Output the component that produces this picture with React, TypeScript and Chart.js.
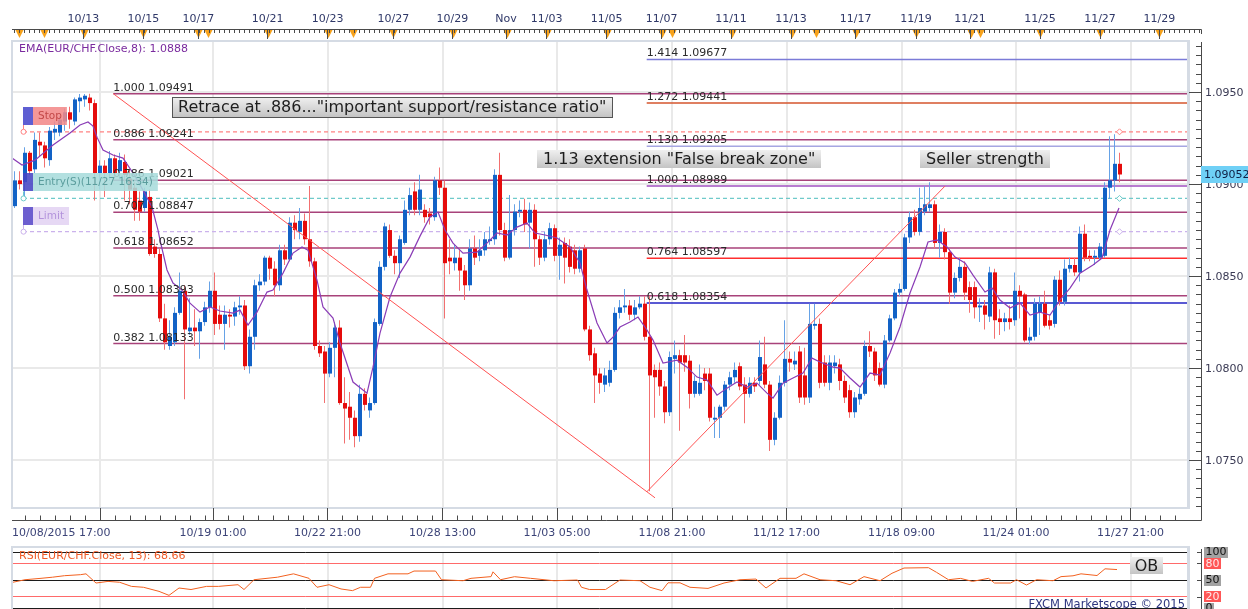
import React, { useEffect, useRef } from 'react';
import { Chart, registerables } from 'chart.js';

Chart.register(...registerables);

// ---------------- DATA (EUR/CHF, 4-hour candles) ----------------
const opens = [1.0888,1.0902,1.0901,1.0917,1.0908,1.0923,1.0921,1.0913,1.0928,1.0928,
1.0934,1.0939,1.0934,1.0945,1.0946,1.0947,1.0944,1.0906,1.0910,1.0906,
1.0914,1.0907,1.0912,1.0903,1.0898,1.0891,1.0887,1.0893,1.0866,1.0862,
1.0827,1.0812,1.0814,1.0830,1.0842,1.0820,1.0822,1.0820,1.0825,1.0833,
1.0842,1.0829,1.0824,1.0829,1.0828,1.0833,1.0834,1.0801,1.0817,1.0845,
1.0847,1.0860,1.0854,1.0845,1.0864,1.0859,1.0879,1.0874,1.0880,1.0870,
1.0858,1.0812,1.0809,1.0797,1.0811,1.0822,1.0781,1.0779,1.0773,1.0763,
1.0786,1.0777,1.0781,1.0824,1.0855,1.0875,1.0861,1.0857,1.0868,1.0886,
1.0896,1.0886,1.0886,1.0884,1.0882,1.0902,1.0898,1.0860,1.0857,1.0860,
1.0853,1.0845,1.0865,1.0861,1.0864,1.0869,1.0870,1.0905,1.0875,1.0860,
1.0875,1.0885,1.0886,1.0879,1.0886,1.0870,1.0860,1.0870,1.0876,1.0861,
1.0868,1.0866,1.0864,1.0854,1.0865,1.0821,1.0808,1.0797,1.0791,1.0792,
1.0799,1.0830,1.0833,1.0834,1.0829,1.0833,1.0835,1.0817,1.0799,1.0799,
1.0790,1.0776,1.0805,1.0807,1.0807,1.0804,1.0786,1.0786,1.0797,1.0797,
1.0772,1.0773,1.0779,1.0791,1.0795,1.0801,1.0791,1.0786,1.0792,1.0793,
1.0802,1.0791,1.0761,1.0773,1.0792,1.0805,1.0802,1.0809,1.0796,1.0784,
1.0823,1.0824,1.0803,1.0792,1.0801,1.0802,1.0793,1.0788,1.0776,1.0783,
1.0786,1.0812,1.0809,1.0800,1.0791,1.0815,1.0827,1.0841,1.0843,1.0871,
1.0882,1.0874,1.0885,1.0887,1.0889,1.0868,1.0874,1.0863,1.0841,1.0849,
1.0855,1.0844,1.0844,1.0833,1.0834,1.0828,1.0852,1.0827,1.0825,1.0827,
1.0826,1.0842,1.0840,1.0815,1.0817,1.0830,1.0835,1.0826,1.0824,1.0848,
1.0836,1.0854,1.0856,1.0852,1.0873,1.0861,1.0860,1.0860,1.0861,1.0898,
1.0902,1.0911];

const highs = [1.0907,1.0907,1.0920,1.0918,1.0928,1.0928,1.0923,1.0931,1.0934,1.0937,
1.0941,1.0942,1.0947,1.0949,1.0949,1.09491,1.0946,1.0913,1.0913,1.0918,
1.0916,1.0917,1.0916,1.0908,1.0901,1.0896,1.0898,1.0897,1.0870,1.0865,
1.0835,1.0826,1.0833,1.0852,1.0845,1.0838,1.0832,1.0827,1.0836,1.0847,
1.0852,1.0834,1.0834,1.0832,1.0836,1.0839,1.0837,1.0821,1.0848,1.0851,
1.0861,1.0861,1.0858,1.0867,1.0867,1.0882,1.0883,1.0887,1.0884,1.0899,
1.0860,1.0815,1.0812,1.0814,1.0825,1.0826,1.0795,1.0787,1.0777,1.0791,
1.0789,1.0784,1.0827,1.0858,1.0879,1.0878,1.0864,1.0872,1.0891,1.0898,
1.0901,1.0905,1.0889,1.0887,1.0904,1.0909,1.0902,1.0870,1.0867,1.0864,
1.0856,1.0870,1.0872,1.0870,1.0874,1.0877,1.0908,1.0917,1.0879,1.0894,
1.0889,1.0891,1.0892,1.0890,1.0889,1.0872,1.0874,1.0879,1.0878,1.0871,
1.0871,1.0870,1.0867,1.0866,1.0867,1.0823,1.0811,1.0800,1.0800,1.0804,
1.0833,1.0837,1.0843,1.0837,1.0837,1.0839,1.0839,1.0839,1.0802,1.0803,
1.0793,1.0809,1.0815,1.0810,1.0818,1.0807,1.0796,1.0802,1.0800,1.0800,
1.0779,1.0780,1.0793,1.0798,1.0803,1.0803,1.0795,1.0795,1.0795,1.0815,
1.0817,1.0793,1.0776,1.0796,1.0826,1.0809,1.0809,1.0812,1.0811,1.0835,
1.0835,1.0827,1.0807,1.0807,1.0807,1.0805,1.0796,1.0791,1.0787,1.0789,
1.0815,1.0820,1.0811,1.0803,1.0818,1.0829,1.0843,1.0846,1.0873,1.0885,
1.0886,1.0898,1.0899,1.0901,1.0891,1.0878,1.0876,1.0865,1.0852,1.0860,
1.0858,1.0847,1.0847,1.0838,1.0837,1.0855,1.0854,1.0832,1.0830,1.0834,
1.0852,1.0845,1.0841,1.0822,1.0838,1.0839,1.0842,1.0829,1.0850,1.0853,
1.0859,1.0860,1.0860,1.0877,1.0878,1.0864,1.0864,1.0868,1.0901,1.0926,
1.0927,1.0917];

const lows = [1.0887,1.0897,1.0892,1.0905,1.0906,1.0915,1.0909,1.0910,1.0924,1.0926,
1.0929,1.0930,1.0932,1.0939,1.0942,1.0940,1.0891,1.0897,1.0893,1.0902,
1.0903,1.0903,1.0891,1.0889,1.0880,1.0880,1.0885,1.0861,1.0860,1.0825,
1.0810,1.0810,1.0812,1.0829,1.0783,1.0818,1.0812,1.0805,1.0823,1.0830,
1.0818,1.0821,1.0810,1.0822,1.0823,1.0829,1.0799,1.0797,1.0810,1.0842,
1.0845,1.0848,1.0839,1.0842,1.0856,1.0858,1.0870,1.0870,1.0867,1.0855,
1.0810,1.0806,1.0781,1.0795,1.0795,1.0780,1.0759,1.0761,1.0757,1.0760,
1.0777,1.0773,1.0780,1.0823,1.0853,1.0860,1.0851,1.0849,1.0867,1.0883,
1.0883,1.0883,1.0879,1.0878,1.0880,1.0894,1.0827,1.0851,1.0853,1.0842,
1.0837,1.0842,1.0856,1.0858,1.0861,1.0867,1.0867,1.0872,1.0858,1.0859,
1.0872,1.0882,1.0874,1.0865,1.0855,1.0856,1.0858,1.0867,1.0858,1.0848,
1.0846,1.0852,1.0851,1.0852,1.0820,1.0804,1.0781,1.0786,1.0787,1.0790,
1.0798,1.0827,1.0830,1.0826,1.0826,1.0832,1.0815,1.0733,1.0773,1.0785,
1.0770,1.0774,1.0797,1.0766,1.0798,1.0778,1.0784,1.0785,1.0788,1.0771,
1.0762,1.0762,1.0777,1.0788,1.0792,1.0788,1.0770,1.0784,1.0787,1.0791,
1.0789,1.0755,1.0758,1.0772,1.0790,1.0798,1.0799,1.0781,1.0780,1.0781,
1.0821,1.0789,1.0790,1.0788,1.0797,1.0788,1.0781,1.0773,1.0773,1.0780,
1.0785,1.0806,1.0793,1.0790,1.0789,1.0814,1.0826,1.0839,1.0842,1.0868,
1.0872,1.0872,1.0883,1.0885,1.0865,1.0860,1.0859,1.0835,1.0838,1.0847,
1.0837,1.0830,1.0827,1.0825,1.0821,1.0825,1.0816,1.0818,1.0820,1.0821,
1.0823,1.0827,1.0814,1.0813,1.0815,1.0818,1.0822,1.0821,1.0822,1.0834,
1.0834,1.0852,1.0850,1.0847,1.0858,1.0858,1.0856,1.0859,1.0860,1.0892,
1.0896,1.0901];

const closes = [1.0902,1.0900,1.0917,1.0907,1.0924,1.0921,1.0914,1.0929,1.0930,1.0935,
1.0939,1.0935,1.0946,1.0947,1.0948,1.0944,1.0906,1.0910,1.0906,1.0914,
1.0906,1.0913,1.0905,1.0897,1.0886,1.0885,1.0896,1.0862,1.0862,1.0827,
1.0814,1.0817,1.0830,1.0842,1.0821,1.0822,1.0820,1.0825,1.0833,1.0842,
1.0824,1.0824,1.0829,1.0828,1.0833,1.0834,1.0801,1.0817,1.0845,1.0847,
1.0860,1.0854,1.0845,1.0864,1.0859,1.0879,1.0875,1.0880,1.0870,1.0858,
1.0812,1.0808,1.0797,1.0811,1.0822,1.0781,1.0778,1.0773,1.0763,1.0786,
1.0780,1.0781,1.0825,1.0855,1.0877,1.0861,1.0857,1.0870,1.0886,1.0894,
1.0886,1.0897,1.0882,1.0882,1.0902,1.0898,1.0857,1.0858,1.0860,1.0853,
1.0845,1.0865,1.0860,1.0864,1.0870,1.0870,1.0905,1.0875,1.0860,1.0875,
1.0885,1.0886,1.0878,1.0886,1.0870,1.0860,1.0870,1.0876,1.0861,1.0867,
1.0860,1.0855,1.0854,1.0864,1.0821,1.0807,1.0796,1.0792,1.0796,1.0799,
1.0830,1.0833,1.0834,1.0829,1.0833,1.0835,1.0817,1.0796,1.0795,1.0790,
1.0776,1.0806,1.0807,1.0803,1.0803,1.0786,1.0793,1.0792,1.0793,1.0773,
1.0773,1.0779,1.0791,1.0795,1.0799,1.0790,1.0786,1.0792,1.0790,1.0806,
1.0791,1.0761,1.0773,1.0792,1.0805,1.0803,1.0804,1.0784,1.0784,1.0824,
1.0824,1.0792,1.0792,1.0803,1.0803,1.0793,1.0784,1.0776,1.0784,1.0786,
1.0812,1.0809,1.0796,1.0791,1.0815,1.0827,1.0841,1.0843,1.0871,1.0882,
1.0874,1.0887,1.0889,1.0889,1.0868,1.0874,1.0863,1.0841,1.0849,1.0855,
1.0841,1.0837,1.0833,1.0834,1.0829,1.0852,1.0826,1.0825,1.0827,1.0825,
1.0842,1.0839,1.0815,1.0817,1.0835,1.0835,1.0823,1.0823,1.0848,1.0836,
1.0854,1.0856,1.0852,1.0873,1.0860,1.0860,1.0861,1.0866,1.0898,1.0902,
1.0911,1.09052];

// EMA(8) line (candle index, value)
const emaIdx = [-0.5,1.5,4.1,7.7,11.1,13.1,14.7,15.7,16.5,17.7,
19.7,21.7,23.7,25.7,27.5,28.7,29.1,30.5,31.7,33.5,
35.1,37.1,39.1,41.1,43.7,45.1,46.7,48.5,50.5,51.7,
53.7,55.7,57.5,58.7,60.5,61.7,63.7,65.1,67.7,70.5,
71.7,73.1,75.1,77.1,79.1,81.1,83.1,84.7,86.1,87.7,
89.7,92.5,94.5,96.5,98.5,100.5,102.5,104.1,106.1,108.5,
111.1,113.1,114.5,116.5,118.5,119.7,121.1,123.1,124.7,126.5,
127.7,129.7,132.5,134.5,136.5,138.5,140.5,142.5,144.5,146.5,
148.5,150.5,151.7,153.7,155.7,157.7,159.5,161.1,163.7,165.1,
167.1,169.1,171.1,173.1,175.1,177.1,179.1,181.1,182.7,184.5,
186.5,188.1,190.1,191.7,194.1,195.5,197.1,199.1,201.1,203.1,
205.1,207.1,209.1,211.1,213.1,215.7,217.5,219.1,220.9];
const emaVal = [1.09141,1.09103,1.09130,1.09212,1.09277,1.09321,1.09337,1.09315,1.09255,1.09185,
1.09158,1.09141,1.09060,1.08967,1.08875,1.08750,1.08696,1.08533,1.08462,1.08424,
1.08353,1.08304,1.08332,1.08310,1.08299,1.08315,1.08234,1.08304,1.08413,1.08424,
1.08516,1.08625,1.08658,1.08641,1.08478,1.08332,1.08272,1.08136,1.07924,1.07864,
1.08005,1.08190,1.08386,1.08516,1.08603,1.08717,1.08821,1.08848,1.08750,1.08679,
1.08625,1.08630,1.08679,1.08734,1.08723,1.08766,1.08788,1.08734,1.08723,1.08707,
1.08658,1.08571,1.08424,1.08245,1.08136,1.08168,1.08223,1.08250,1.08277,1.08207,
1.08152,1.08027,1.08043,1.08005,1.07951,1.07935,1.07853,1.07891,1.07924,1.07897,
1.07918,1.07864,1.07837,1.07918,1.07946,1.07973,1.08054,1.08033,1.08005,1.08000,
1.07946,1.07897,1.07973,1.07962,1.08082,1.08223,1.08408,1.08549,1.08685,1.08696,
1.08658,1.08603,1.08571,1.08505,1.08413,1.08435,1.08370,1.08326,1.08353,1.08288,
1.08304,1.08288,1.08370,1.08435,1.08516,1.08560,1.08598,1.08750,1.08870];

// RSI(13)
const rsiIdx = [-0.3,2.1,5.3,7.6,10,13.2,14.3,16.3,18.7,21,
23.4,25.8,28.9,30.9,32.9,35.3,38.4,40.8,44.7,45.9,
47.9,52.6,55.8,58.9,60.5,62.9,65.3,67.6,69.2,71.2,
72,74.7,78.7,79.9,84.2,85.4,89.7,91.3,95.3,95.7,
97.2,100,103.2,107.9,112.6,113.4,115,118.2,121.1,125.1,
127.1,129.5,130.7,133.1,135.1,138.7,141.9,145.1,148.3,150.3,
153.1,156.3,157.9,161.1,164.3,167.1,169.9,173.1,175.5,177.9,
182.8,184.4,186.8,189.2,191.6,194.8,196,199.2,200.4,202.4,
204.4,207.7,209.3,211.7,213.3,216.5,218.1,220.5];
const rsiVal = [46,50.5,53,55,57.7,59.5,61,44.6,47.5,46,
38.6,37,29.7,22.6,35.7,33,38.6,38.6,41.6,33,
50.5,55,61,53,37,41.6,34,31,37,37,
53,61,61,66,66,50.5,48.7,53,56,64.6,
50.5,55.9,53,48.7,50,37,33,33,50,48.7,
37,31,45,45,37,35,44.6,50.5,51.7,35.7,
53,53,61,50.5,48.7,41.6,56,48.7,62,71.4,
72,63.7,50.5,52.9,47.5,53,44.6,44.6,50.5,41,
50.5,48.7,56,57.5,61,58,70,68.66];
const rsiLevels = [0, 20, 50, 80, 100];
const rsiLabelLevels = ['100', '80', '50', '20', '0'];

// Fibonacci retracement (drawn from the 10/13 high to the 11/06 low)
const retraceRatios = ['1.000', '0.886', '0.786', '0.707', '0.618', '0.500', '0.382'];
const retraceLevels = [1.09491, 1.09241, 1.09021, 1.08847, 1.08652, 1.08393, 1.08133];
const retraceAnchorIdx = [19.76, 128.1];
const retraceAnchorPrice = [1.09491, 1.07295];

// Fibonacci extension
const extRatios = ['1.414', '1.272', '1.130', '1.000', '0.764', '0.618'];
const extLevels = [1.09677, 1.09441, 1.09205, 1.08989, 1.08597, 1.08354];
const extAnchorIdx = [126.44, 186.1];
const extAnchorPrice = [1.07327, 1.08989];

// Order lines
const orderNames = ['Stop', 'Entry(S)(11/27 16:34)', 'Limit'];
const orderLevels = [1.09284, 1.08922, 1.08741];
const orderStartIdx = 1.7;

// Text notes (anchor: candle index of left edge, price of top edge)
const noteTexts = ['Retrace at .886..."important support/resistance ratio"', '1.13 extension "False break zone"', 'Seller strength'];
const noteIdx = [31.56, 104.44, 181.1];
const notePrice = [1.09471, 1.09185, 1.09185];

// Time axes
const topDates = ['10/13','10/15','10/17','10/21','10/23','10/27','10/29','Nov','11/03','11/05','11/07','11/11','11/13','11/17','11/19','11/21','11/25','11/27','11/29'];
const topDateIdx = [13.76,25.76,36.76,50.64,62.64,75.76,87.56,98.3,106.44,118.44,129.44,143.3,155.3,168.24,180.3,191.1,205.1,217.1,228.96];
const eventIdx = [0.9,5.9,13.9,25.7,36.9,38.7,50.7,62.7,67.7,75.7,87.7,98.5,106.5,118.5,129.5,131.5,143.5,155.5,160.3,168.3,180.3,191.3,193.1,205.1,217.1,228.9];
const bottomLabels = ['10/08/2015 17:00','10/19 01:00','10/22 21:00','10/28 13:00','11/03 05:00','11/08 21:00','11/12 17:00','11/18 09:00','11/24 01:00','11/27 21:00'];
const bottomIdx = [-0.5,39.7,62.6,85.6,108.5,131.5,154.4,177.4,200.3,223.2];
const gridIdx = [17.1,39.7,62.6,85.6,108.5,131.5,154.4,177.4,200.3,223.2];
const priceGrid = [1.075, 1.08, 1.085, 1.09, 1.095];

const emaLabel = 'EMA(EUR/CHF.Close,8): 1.0888';
const rsiLabel = 'RSI(EUR/CHF.Close, 13): 68.66';
const credit = 'FXCM Marketscope © 2015';

// ---------------- LAYOUT / STYLE ----------------
const CW = 1248;
const MAIN_H = 545;
const RSI_H = 64;
const X_MIN = -0.5;
const X_MAX = 234.5;
const Y_MIN = 1.07245;
const Y_MAX = 1.09772;
const FONT = (s: number) => `${s}px "DejaVu Sans", Verdana, sans-serif`;

const UP_BODY = '#1262c6';
const UP_WICK = '#66a2e6';
const DN_BODY = '#e50c0c';
const DN_WICK = '#f27070';
const RETRACE_COLOR = '#a8427a';
const EXT_COLORS = ['#7b7bd8', '#d4552c', '#a6a6e2', '#a150c0', '#ff2e2e', '#2222c4'];
const ORDER_LINE = ['#ff8282', '#6fcaca', '#cbb2ec'];
const ORDER_SQUARE = ['#4848cc', '#4646c4', '#5848c8'];
const ORDER_BOX = ['#f28a8a', '#a9dcdc', '#e2d3f3'];
const ORDER_TEXT = ['#c34848', '#5b9d9d', '#b393dc'];
const FRAME = '#d5dbe4';
const AXIS = '#4a4a4a';

function hline(level: number, from: number) {
  return [{ x: from, y: level }, { x: X_MAX, y: level }];
}

function drawMainDecor(chart: any) {
  const ctx: CanvasRenderingContext2D = chart.ctx;
  const xs = chart.scales.x;
  const ys = chart.scales.y;
  const X = (v: number) => xs.getPixelForValue(v);
  const Y = (v: number) => ys.getPixelForValue(v);
  const a = chart.chartArea;
  const axR = Math.round(a.right) + 14;
  ctx.save();

  // plot frame
  ctx.fillStyle = FRAME;
  ctx.fillRect(a.left - 1, a.top - 2, a.right - a.left + 4, 2);
  ctx.fillRect(a.left - 1, a.bottom, a.right - a.left + 4, 2);
  ctx.fillRect(a.left - 1, a.top - 2, 2, a.bottom - a.top + 4);
  ctx.fillRect(a.right, a.top - 2, 3, a.bottom - a.top + 4);

  // ---- top date axis
  ctx.fillStyle = '#f7a21b';
  eventIdx.forEach((v) => {
    const x = Math.floor(X(v)) + 0.5;
    ctx.beginPath();
    ctx.moveTo(x - 4, 30);
    ctx.lineTo(x + 4, 30);
    ctx.lineTo(x, 38);
    ctx.closePath();
    ctx.fill();
  });
  ctx.strokeStyle = AXIS;
  ctx.lineWidth = 1;
  ctx.beginPath();
  ctx.moveTo(a.left, 29.5);
  ctx.lineTo(axR + 0.5, 29.5);
  for (let k = 0; X(k) <= axR; k++) {
    const x = Math.floor(X(k)) + 0.5;
    ctx.moveTo(x, 29.5);
    ctx.lineTo(x, 33);
  }
  topDateIdx.forEach((v) => {
    const x = Math.floor(X(v)) + 0.5;
    ctx.moveTo(x, 29.5);
    ctx.lineTo(x, 39);
  });
  ctx.moveTo(axR + 0.5, 29.5);
  ctx.lineTo(axR + 0.5, 34);
  ctx.stroke();
  ctx.font = FONT(11);
  ctx.fillStyle = '#2f3868';
  ctx.textAlign = 'center';
  ctx.textBaseline = 'middle';
  topDates.forEach((t, k) => ctx.fillText(t, X(topDateIdx[k]), 19.5));

  // ---- right price axis
  const by = 520.5;
  ctx.beginPath();
  ctx.moveTo(axR + 0.5, a.top);
  ctx.lineTo(axR + 0.5, by);
  const kLo = Math.ceil(ys.min * 2000 - 1e-6);
  const kHi = Math.floor(ys.max * 2000 + 1e-6);
  for (let k = kLo; k <= kHi; k++) {
    const y = Math.round(Y(k / 2000)) + 0.5;
    const major = k % 10 === 0;
    ctx.moveTo(major ? a.right + 2 : axR - 5, y);
    ctx.lineTo(axR + 0.5, y);
  }
  // ---- bottom time axis
  ctx.moveTo(a.left, by);
  ctx.lineTo(axR + 0.5, by);
  const minor: number[] = [];
  for (let v = gridIdx[0] - 3; v > X_MIN; v -= 3) minor.push(v);
  for (let j = 0; j < gridIdx.length; j++) {
    const next = j + 1 < gridIdx.length ? gridIdx[j + 1] : X_MAX;
    for (let v = gridIdx[j] + 3; v < next - 1; v += 3) minor.push(v);
  }
  minor.forEach((v) => {
    const x = Math.floor(X(v)) + 0.5;
    ctx.moveTo(x, by);
    ctx.lineTo(x, by - 5);
  });
  gridIdx.forEach((v) => {
    const x = Math.floor(X(v)) + 0.5;
    ctx.moveTo(x, by);
    ctx.lineTo(x, a.bottom + 1);
  });
  ctx.stroke();

  ctx.fillStyle = '#3a3a54';
  ctx.textAlign = 'left';
  for (let k = kLo; k <= kHi; k++) {
    if (k % 10 !== 0) continue;
    const y = Math.round(Y(k / 2000)) + 0.5;
    ctx.fillText((k / 2000).toFixed(4), axR + 4, y + 0.5);
  }
  ctx.fillStyle = '#3c4478';
  bottomLabels.forEach((t, k) => {
    ctx.textAlign = k === 0 ? 'left' : 'center';
    ctx.fillText(t, k === 0 ? a.left : X(bottomIdx[k]), 533);
  });

  // ---- fibonacci labels
  ctx.font = FONT(11);
  ctx.fillStyle = '#2a2a2a';
  ctx.textAlign = 'left';
  ctx.textBaseline = 'alphabetic';
  retraceLevels.forEach((lv, k) => ctx.fillText(`${retraceRatios[k]} ${lv.toFixed(5)}`, X(retraceAnchorIdx[0]), Y(lv) - 3));
  extLevels.forEach((lv, k) => ctx.fillText(`${extRatios[k]} ${lv.toFixed(5)}`, X(extAnchorIdx[0]), Y(lv) - 3));

  // ---- order markers
  orderLevels.forEach((lv, k) => {
    const y = Y(lv);
    const x0 = X(orderStartIdx);
    const xc = Math.floor(x0) + 0.5;
    ctx.strokeStyle = ORDER_LINE[k];
    ctx.lineWidth = 1;
    ctx.beginPath();
    ctx.moveTo(xc, y - 7);
    ctx.lineTo(xc, y - 2.5);
    ctx.stroke();
    ctx.beginPath();
    ctx.arc(xc, y, 2.5, 0, Math.PI * 2);
    ctx.fillStyle = '#ffffff';
    ctx.fill();
    ctx.stroke();
    const xd = X(opens.length - 1);
    ctx.beginPath();
    ctx.moveTo(xd - 3, y);
    ctx.lineTo(xd, y - 3);
    ctx.lineTo(xd + 3, y);
    ctx.lineTo(xd, y + 3);
    ctx.closePath();
    ctx.fill();
    ctx.stroke();

    ctx.font = FONT(10.5);
    const w = ctx.measureText(orderNames[k]).width;
    const top = Math.round(y - 25);
    const h = 18;
    const left = Math.floor(x0);
    ctx.globalAlpha = 0.88;
    ctx.fillStyle = ORDER_SQUARE[k];
    ctx.fillRect(left, top, 10, h);
    ctx.fillStyle = ORDER_BOX[k];
    ctx.fillRect(left + 10, top, w + 10, h);
    ctx.globalAlpha = 1;
    ctx.fillStyle = ORDER_TEXT[k];
    ctx.textBaseline = 'middle';
    ctx.textAlign = 'left';
    ctx.fillText(orderNames[k], left + 15, top + h / 2 + 0.5);
  });

  // ---- notes
  noteTexts.forEach((t, k) => {
    const left = Math.round(X(noteIdx[k]));
    const top = Math.round(Y(notePrice[k]));
    ctx.font = FONT(16);
    const w = Math.round(ctx.measureText(t).width + 12);
    const h = k === 0 ? 20 : 18;
    const g = ctx.createLinearGradient(0, top, 0, top + h);
    g.addColorStop(0, '#f0f0f0');
    g.addColorStop(1, '#c4c4c4');
    ctx.fillStyle = g;
    ctx.fillRect(left, top, w, h);
    if (k === 0) {
      ctx.strokeStyle = '#555555';
      ctx.lineWidth = 1;
      ctx.strokeRect(left + 0.5, top + 0.5, w, h);
    }
    ctx.fillStyle = '#1e1e1e';
    ctx.textAlign = 'left';
    ctx.textBaseline = 'middle';
    ctx.fillText(t, left + 6, top + h / 2 + 1);
  });

  // ---- EMA title
  ctx.font = FONT(11);
  ctx.fillStyle = '#7a2a9e';
  ctx.textAlign = 'left';
  ctx.textBaseline = 'middle';
  ctx.fillText(emaLabel, 19, 49);

  // ---- last price tag
  const last = closes[closes.length - 1];
  const yl = Y(last);
  ctx.fillStyle = '#6fd0f6';
  ctx.fillRect(axR, Math.round(yl - 8.5), CW - axR, 17);
  ctx.fillStyle = '#0f1f44';
  ctx.fillText(last.toFixed(5), axR + 3, yl + 0.5);

  ctx.restore();
}

function drawRsiDecor(chart: any) {
  const ctx: CanvasRenderingContext2D = chart.ctx;
  const ys = chart.scales.y;
  const Y = (v: number) => ys.getPixelForValue(v);
  const a = chart.chartArea;
  const axR = Math.round(a.right) + 14;
  ctx.save();
  ctx.fillStyle = FRAME;
  ctx.fillRect(a.left - 1, 1, a.right - a.left + 4, 2);
  ctx.fillRect(a.left - 1, 1, 2, RSI_H);
  ctx.fillRect(a.right, 1, 3, RSI_H);

  ctx.strokeStyle = AXIS;
  ctx.lineWidth = 1;
  ctx.beginPath();
  ctx.moveTo(axR + 0.5, 4);
  ctx.lineTo(axR + 0.5, RSI_H);
  [100, 80, 50, 20].forEach((v) => {
    const y = Math.round(Y(v)) + 0.5;
    ctx.moveTo(axR - 4, y);
    ctx.lineTo(axR + 0.5, y);
  });
  ctx.stroke();

  ctx.font = FONT(11);
  ctx.textAlign = 'left';
  ctx.textBaseline = 'middle';
  rsiLabelLevels.forEach((t) => {
    const v = Number(t);
    const y = Y(v);
    const w = ctx.measureText(t).width + 3;
    const red = v === 80 || v === 20;
    ctx.fillStyle = red ? '#ff5656' : '#a2a2a2';
    ctx.fillRect(axR + 3, Math.round(y - 5.5), w, 11);
    ctx.fillStyle = red ? '#ffe8e8' : '#111111';
    ctx.fillText(t, axR + 4.5, y + 0.5);
  });

  ctx.fillStyle = '#ef5a26';
  ctx.fillText(rsiLabel, 19, 11);

  // OB box
  const obLeft = 1130;
  const obTop = 12;
  const g = ctx.createLinearGradient(0, obTop, 0, obTop + 17);
  g.addColorStop(0, '#f0f0f0');
  g.addColorStop(1, '#c4c4c4');
  ctx.fillStyle = g;
  ctx.fillRect(obLeft, obTop, 33, 17);
  ctx.fillStyle = '#1e1e1e';
  ctx.font = FONT(16);
  ctx.textAlign = 'center';
  ctx.fillText('OB', obLeft + 16.5, obTop + 9.5);

  ctx.font = FONT(11.5);
  ctx.fillStyle = '#2e3680';
  ctx.textAlign = 'right';
  ctx.textBaseline = 'top';
  ctx.fillText(credit, 1185, 54);
  ctx.restore();
}

export default function App() {
  const mainRef = useRef<HTMLCanvasElement>(null);
  const rsiRef = useRef<HTMLCanvasElement>(null);

  useEffect(() => {
    const isUp = opens.map((o, i) => closes[i] >= o);
    const wicks = opens.map((_, i) => ({ x: i, y: [lows[i], highs[i]] }));
    const bodies = opens.map((o, i) => ({ x: i, y: [o, closes[i]] }));
    const lineBase = { type: 'line', pointRadius: 0, tension: 0, fill: false };

    const datasets: any[] = [
      ...retraceLevels.map((lv) => ({ ...lineBase, data: hline(lv, retraceAnchorIdx[0]), borderColor: RETRACE_COLOR, borderWidth: 1.5, order: 30 })),
      ...extLevels.map((lv, k) => ({ ...lineBase, data: hline(lv, extAnchorIdx[0]), borderColor: EXT_COLORS[k], borderWidth: 1.5, order: 30 })),
      ...orderLevels.map((lv, k) => ({ ...lineBase, data: hline(lv, orderStartIdx), borderColor: ORDER_LINE[k], borderWidth: 1.3, borderDash: [4, 3], order: 29 })),
      {
        type: 'bar', data: wicks, xAxisID: 'x', grouped: false, barThickness: 1, inflateAmount: 0, borderWidth: 0,
        backgroundColor: isUp.map((u) => (u ? UP_WICK : DN_WICK)), order: 12,
      },
      {
        type: 'bar', data: bodies, xAxisID: 'xb', grouped: false, barThickness: 4, inflateAmount: 0, borderWidth: 0, minBarLength: 1,
        backgroundColor: isUp.map((u) => (u ? UP_BODY : DN_BODY)), order: 11,
      },
      { ...lineBase, data: emaIdx.map((x, k) => ({ x, y: emaVal[k] })), borderColor: '#8a3cb6', borderWidth: 1.2, order: 5 },
      { ...lineBase, data: retraceAnchorIdx.map((x, k) => ({ x, y: retraceAnchorPrice[k] })), borderColor: '#ff5252', borderWidth: 1, order: 1 },
      { ...lineBase, data: extAnchorIdx.map((x, k) => ({ x, y: extAnchorPrice[k] })), borderColor: '#ff5252', borderWidth: 1, order: 1 },
    ];

    const main = new Chart(mainRef.current as HTMLCanvasElement, {
      type: 'line',
      data: { datasets },
      options: {
        responsive: false,
        animation: false,
        devicePixelRatio: 1,
        events: [],
        layout: { padding: { left: 12, top: 42, right: 0, bottom: 0 } },
        plugins: { legend: { display: false }, tooltip: { enabled: false } },
        scales: {
          x: {
            type: 'linear', position: 'bottom', min: X_MIN, max: X_MAX, offset: false,
            afterFit: (s: any) => { s.height = MAIN_H - 507; },
            afterBuildTicks: (s: any) => { s.ticks = gridIdx.map((v) => ({ value: v })); },
            ticks: { display: false },
            grid: { color: '#e9e9e9', lineWidth: 2, drawTicks: false, offset: false },
            border: { display: false },
          },
          xb: { type: 'linear', display: false, min: X_MIN - 0.1, max: X_MAX - 0.1, offset: false },
          y: {
            type: 'linear', position: 'right', min: Y_MIN, max: Y_MAX,
            afterFit: (s: any) => { s.width = CW - 1187; },
            afterBuildTicks: (s: any) => { s.ticks = priceGrid.map((v) => ({ value: v })); },
            ticks: { display: false },
            grid: { color: '#e9e9e9', lineWidth: 2, drawTicks: false },
            border: { display: false },
          },
        },
      } as any,
      plugins: [{ id: 'mainDecor', afterDraw: drawMainDecor }],
    } as any);

    const rsi = new Chart(rsiRef.current as HTMLCanvasElement, {
      type: 'line',
      data: {
        datasets: [
          { data: rsiIdx.map((x, k) => ({ x, y: rsiVal[k] })), borderColor: '#f2601f', borderWidth: 1, pointRadius: 0, tension: 0, fill: false },
        ],
      },
      options: {
        responsive: false,
        animation: false,
        devicePixelRatio: 1,
        events: [],
        layout: { padding: { left: 12, top: 7, right: 0, bottom: 0 } },
        plugins: { legend: { display: false }, tooltip: { enabled: false } },
        scales: {
          x: {
            type: 'linear', min: X_MIN, max: X_MAX, offset: false,
            afterFit: (s: any) => { s.height = 1; },
            afterBuildTicks: (s: any) => { s.ticks = gridIdx.map((v) => ({ value: v })); },
            ticks: { display: false },
            grid: { color: '#e9e9e9', lineWidth: 2, drawTicks: false },
            border: { display: false },
          },
          y: {
            type: 'linear', position: 'right', min: 0, max: 100,
            afterFit: (s: any) => { s.width = CW - 1187; },
            afterBuildTicks: (s: any) => { s.ticks = rsiLevels.map((v) => ({ value: v })); },
            ticks: { display: false },
            grid: {
              color: (c: any) => (c.tick && (c.tick.value === 20 || c.tick.value === 80) ? '#ff6a6a' : '#1c1c1c'),
              lineWidth: 1, drawTicks: false,
            },
            border: { display: false },
          },
        },
      } as any,
      plugins: [{ id: 'rsiDecor', afterDraw: drawRsiDecor }],
    } as any);

    return () => {
      main.destroy();
      rsi.destroy();
    };
  }, []);

  return (
    <div style={{ position: 'fixed', left: 0, top: 0, width: CW, height: MAIN_H + RSI_H, background: '#ffffff', overflow: 'hidden' }}>
      <canvas ref={mainRef} width={CW} height={MAIN_H} style={{ position: 'absolute', left: 0, top: 0 }} />
      <canvas ref={rsiRef} width={CW} height={RSI_H} style={{ position: 'absolute', left: 0, top: MAIN_H }} />
    </div>
  );
}
